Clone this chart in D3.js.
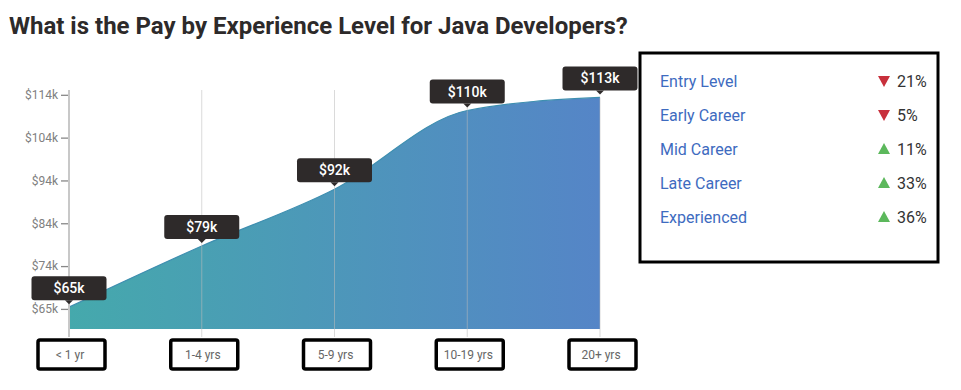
<!DOCTYPE html>
<html>
<head>
<meta charset="utf-8">
<script src="https://cdn.jsdelivr.net/npm/d3@7/dist/d3.min.js"></script>
<style>
  html, body { margin: 0; padding: 0; background: #fff; }
  svg { display: block; font-family: Roboto, "Noto Sans", sans-serif; }
</style>
</head>
<body>
<div id="chart"></div>
<script>
// chart data
const categories = ["< 1 yr", "1-4 yrs", "5-9 yrs", "10-19 yrs", "20+ yrs"];
const pay = [65, 79, 92, 110, 113]; // $k
const yTicks = [64.6, 74.4, 84.2, 94, 103.8, 113.6];
const yTickLabels = ["$65k", "$74k", "$84k", "$94k", "$104k", "$114k"];
const levels = ["Entry Level", "Early Career", "Mid Career", "Late Career", "Experienced"];
const changes = [-21, -5, 11, 33, 36]; // % vs median

const W = 961, H = 390;
const plot = {left: 69, right: 600, top: 90, bottom: 329};

const svg = d3.select("#chart").append("svg")
    .attr("width", W)
    .attr("height", H);

// title
svg.append("text")
    .attr("x", 9)
    .attr("y", 34)
    .style("font-size", "24px")
    .style("font-weight", "bold")
    .style("fill", "#2d2a2a")
    .text("What is the Pay by Experience Level for Java Developers?");

const x = d3.scalePoint().domain(categories).range([plot.left, plot.right]);
const y = d3.scaleLinear().domain([60, 114.7]).range([plot.bottom, plot.top]);

// gradient for the area
const grad = svg.append("defs").append("linearGradient")
    .attr("id", "areaGrad")
    .attr("gradientUnits", "userSpaceOnUse")
    .attr("x1", plot.left).attr("x2", plot.right)
    .attr("y1", 0).attr("y2", 0);
grad.append("stop").attr("offset", "0%").attr("stop-color", "#45a9ac");
grad.append("stop").attr("offset", "100%").attr("stop-color", "#5585c7");

const data = categories.map((c, i) => ({cat: c, v: pay[i]}));

// area
const area = d3.area()
    .x(d => x(d.cat))
    .y0(plot.bottom)
    .y1(d => y(d.v))
    .curve(d3.curveMonotoneX);

svg.append("path")
    .datum(data)
    .attr("d", area)
    .style("fill", "url(#areaGrad)");

svg.append("path")
    .datum(data)
    .attr("d", area.lineY1())
    .style("fill", "none")
    .style("stroke", "#3f8fb0")
    .style("stroke-width", 1.2);

// vertical grid lines / x ticks
svg.append("g")
    .selectAll("line")
    .data(categories)
    .join("line")
    .attr("x1", d => x(d)).attr("x2", d => x(d))
    .attr("y1", (d, i) => i === categories.length - 1 ? y(pay[i]) : plot.top)
    .attr("y2", plot.bottom + 8)
    .style("stroke", (d, i) => i === 0 ? "#c8c8c8" : "#bbb")
    .style("stroke-opacity", (d, i) => i === 0 ? 1 : 0.55)
    .style("stroke-width", (d, i) => i === 0 ? 2 : 1);

// y axis
const yAxis = d3.axisLeft(y)
    .tickValues(yTicks)
    .tickFormat((d, i) => yTickLabels[i])
    .tickSize(7)
    .tickPadding(3);

const yG = svg.append("g")
    .attr("transform", `translate(${plot.left - 1},0)`)
    .call(yAxis);
yG.select(".domain").remove();
yG.selectAll(".tick line").style("stroke", "#888").style("stroke-width", 1.3);
yG.selectAll(".tick text")
    .style("font-family", "Roboto, sans-serif")
    .style("font-size", "12px")
    .style("fill", "#808080");

// x labels in outlined boxes
const xl = svg.append("g").selectAll("g")
    .data(categories)
    .join("g")
    .attr("transform", d => `translate(${x(d)},0)`);

xl.append("rect")
    .attr("x", -31)
    .attr("y", 340)
    .attr("width", 67)
    .attr("height", 29)
    .attr("rx", 2)
    .style("fill", "#fff")
    .style("stroke", "#000")
    .style("stroke-width", 3.5);

xl.append("text")
    .attr("x", 1)
    .attr("y", 359)
    .attr("text-anchor", "middle")
    .style("font-size", "12px")
    .style("fill", "#666")
    .text(d => d);

// value callouts
const tip = svg.append("g").selectAll("g")
    .data(data)
    .join("g")
    .attr("transform", d => `translate(${x(d.cat)},${y(d.v) - 7})`);

tip.append("rect")
    .attr("x", -37.5)
    .attr("y", -24)
    .attr("width", 75)
    .attr("height", 24)
    .attr("rx", 3)
    .style("fill", "#2e2a2a");

tip.append("path")
    .attr("d", "M-4,0 L4,0 L0,4 Z")
    .style("fill", "#2e2a2a");

tip.append("text")
    .attr("y", -7)
    .attr("text-anchor", "middle")
    .style("font-size", "14px")
    .style("font-weight", 500)
    .style("fill", "#fff")
    .text(d => `$${d.v}k`);

// legend box
svg.append("rect")
    .attr("x", 640)
    .attr("y", 53)
    .attr("width", 298)
    .attr("height", 209)
    .style("fill", "#fff")
    .style("stroke", "#000")
    .style("stroke-width", 3);

const rowY = d3.scalePoint().domain(levels).range([87, 223]);

const rows = svg.append("g").selectAll("g")
    .data(levels)
    .join("g")
    .attr("transform", d => `translate(0,${rowY(d)})`);

rows.append("text")
    .attr("x", 660)
    .style("font-size", "16px")
    .style("fill", "#3e6bc0")
    .text(d => d);

rows.append("path")
    .attr("transform", "translate(884,-6)")
    .attr("d", (d, i) => changes[i] < 0 ? "M-6,-5 L6,-5 L0,6 Z" : "M-6,5 L6,5 L0,-6 Z")
    .style("fill", (d, i) => changes[i] < 0 ? "#c8303c" : "#5cb85c");

rows.append("text")
    .attr("x", 897)
    .style("font-size", "16px")
    .style("fill", "#333")
    .text((d, i) => `${Math.abs(changes[i])}%`);
</script>
</body>
</html>
